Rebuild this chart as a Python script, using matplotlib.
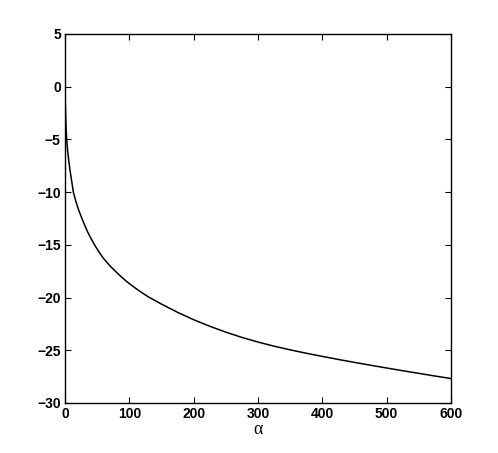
import matplotlib
matplotlib.use('Agg')
import matplotlib.pyplot as plt

# valores (alpha, curva)
alpha = [0, 0.5, 1, 1.8, 2.6, 4, 6, 8, 10, 13, 17, 21, 25, 30, 35, 40, 45, 52, 60, 70, 80, 90,
         100, 115, 130, 150, 175, 200, 225, 250, 275, 300, 325, 350, 375, 400, 425, 450, 475,
         500, 525, 550, 575, 600]
valor = [0, -1.5, -2.6, -4.0, -5.0, -6.0, -7.1, -8.0, -8.8, -10.0, -10.9, -11.65, -12.3, -13.05,
         -13.75, -14.35, -14.9, -15.6, -16.3, -17.0, -17.6, -18.17, -18.68, -19.35, -19.95, -20.62,
         -21.4, -22.1, -22.72, -23.28, -23.78, -24.22, -24.61, -24.96, -25.28, -25.58, -25.87,
         -26.15, -26.42, -26.68, -26.94, -27.19, -27.44, -27.68]

xticks = [0, 100, 200, 300, 400, 500, 600]
yticks = [-30, -25, -20, -15, -10, -5, 0, 5]

plt.rcParams['font.family'] = ['Liberation Sans', 'DejaVu Sans']

fig = plt.figure(figsize=(4.98, 4.53), dpi=100)
ax = fig.add_axes([0.1305, 0.1104, 0.775, 0.8146])

ax.plot(alpha, valor, color='black', lw=1.1)  # curva principal

ax.set_xlim(0, 600)
ax.set_ylim(-30, 5)
ax.set_xticks(xticks)
ax.set_yticks(yticks)
ax.tick_params(direction='in', top=True, right=True, length=4, width=0.8, labelsize=10, pad=3)
for lab in ax.get_xticklabels() + ax.get_yticklabels():
    lab.set_fontweight('bold')
for s in ax.spines.values():
    s.set_linewidth(1.0)

ax.set_xlabel('α', family='Liberation Serif', fontsize=13, labelpad=0)

fig.savefig('out.png', dpi=100)
